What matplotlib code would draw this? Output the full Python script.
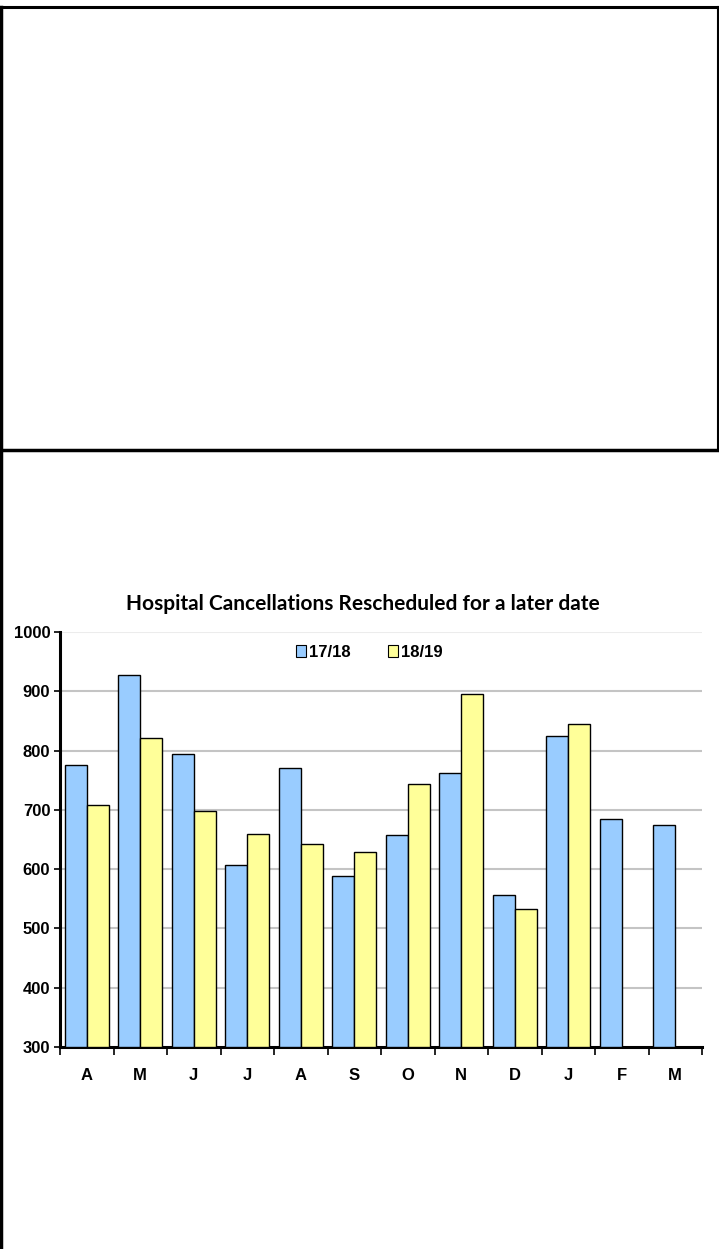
import warnings
warnings.filterwarnings("ignore")

import matplotlib
matplotlib.use("Agg")
import matplotlib.pyplot as plt
from matplotlib.lines import Line2D
from matplotlib.patches import Patch
import numpy as np

# data
months = ["A", "M", "J", "J", "A", "S", "O", "N", "D", "J", "F", "M"]
series_names = ["17/18", "18/19"]
vals_1718 = [776, 927, 794, 607, 770, 588, 658, 762, 557, 824, 685, 675]
vals_1819 = [708, 821, 698, 660, 642, 629, 744, 895, 533, 845, None, None]
y_ticks = [300, 400, 500, 600, 700, 800, 900, 1000]

NARROW = ["Liberation Sans Narrow", "Liberation Sans", "DejaVu Sans"]
BLUE = "#99ccff"
YELLOW = "#ffff99"

W, H = 719, 1249
fig = plt.figure(figsize=(W / 100, H / 100), dpi=100)

# page frame lines around the chart area
frame = fig.add_axes([0, 0, 1, 1], zorder=-1)
frame.set_xlim(0, W); frame.set_ylim(H, 0); frame.axis("off")
frame.add_line(Line2D([0, W], [7, 7], color="black", lw=2.2))
frame.add_line(Line2D([0, W], [450, 450], color="black", lw=2.5))
frame.add_line(Line2D([1, 1], [7, H], color="black", lw=2.5))
frame.add_line(Line2D([718, 718], [7, 450], color="black", lw=1.5))

ax = fig.add_axes([60 / W, (H - 1047) / H, 642 / W, 415 / H])

x = np.arange(len(months))
bw = 0.415
base = y_ticks[0]
ax.bar(x - bw / 2, np.array(vals_1718) - base, bw, bottom=base, color=BLUE,
       edgecolor="black", linewidth=1.0, zorder=3)
mask = np.array([v is not None for v in vals_1819])
b2 = np.array([v if v is not None else 0 for v in vals_1819])
ax.bar(x[mask] + bw / 2, b2[mask] - base, bw, bottom=base,
       color=YELLOW, edgecolor="black", linewidth=1.0, zorder=3)

ax.set_xlim(-0.5, len(months) - 0.5)
ax.set_ylim(300, 1000)

for t in y_ticks[1:-1]:
    ax.axhline(t, color="#c4c4c4", lw=1.5, zorder=1)
ax.axhline(1000, color="#ececec", lw=1.5, zorder=1)

for s in ["top", "right"]:
    ax.spines[s].set_visible(False)
ax.spines["left"].set_linewidth(2.2)
ax.spines["bottom"].set_linewidth(2.2)

ax.set_yticks(y_ticks)
ax.set_yticklabels([str(t) for t in y_ticks], family=NARROW,
                   fontweight="bold", fontsize=12)
ax.tick_params(axis="y", length=4, width=1.2, pad=3)

ax.set_xticks(x)
ax.set_xticklabels(months, family=NARROW, fontweight="bold", fontsize=12)
ax.tick_params(axis="x", length=0, pad=15)
ax.set_xticks(np.arange(-0.5, len(months)), minor=True)
ax.tick_params(axis="x", which="minor", length=6, width=1.2)

handles = [Patch(facecolor=BLUE, edgecolor="black", lw=0.8),
           Patch(facecolor=YELLOW, edgecolor="black", lw=0.8)]
ax.legend(handles, series_names, loc="upper center",
          bbox_to_anchor=(0.482, 1.005), ncol=2, frameon=False,
          handlelength=0.6, handleheight=0.7, handletextpad=0.2,
          columnspacing=2.2,
          prop={"family": NARROW, "weight": "bold", "size": 12})

fig.text(363 / W, 1 - 604 / H,
         "Hospital Cancellations Rescheduled for a later date",
         ha="center", va="center", fontsize=15, fontweight="bold",
         family=["Lato", "DejaVu Sans"])

fig.savefig("out.png", dpi=100)
